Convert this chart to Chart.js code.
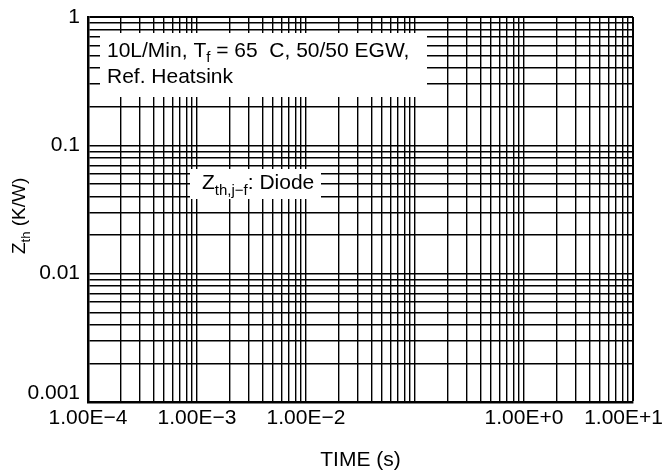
<!DOCTYPE html>
<html>
<head>
<meta charset="utf-8">
<script src="https://cdn.jsdelivr.net/npm/chart.js@4.4.0/dist/chart.umd.min.js"></script>
<style>
  html, body { margin: 0; padding: 0; background: #fff; }
  #wrap { width: 666px; height: 476px; }
</style>
</head>
<body>
<div id="wrap"><canvas id="myChart"></canvas></div>
<script>
// decades on each axis and the labels printed at them
const xDecades = [1e-4, 1e-3, 1e-2, 1e-1, 1, 10];
const xTickLabels = ['1.00E\u22124', '1.00E\u22123', '1.00E\u22122', '', '1.00E+0', '1.00E+1'];
const yDecades = [0.001, 0.01, 0.1, 1];
const yTickLabels = ['0.001', '0.01', '0.1', '1'];
const gridSteps = [1, 2, 3, 4, 5, 6, 7, 8, 9];
// the reference shows only the empty grid, no curve is plotted
const zthDiode = [];

const FONT = '"Liberation Sans", Arial, Helvetica, sans-serif';
const SIZE = 21;
const SUB = 15;

function logGrid(decades) {
    const ticks = [];
    decades.forEach((d, i) => {
        if (i === decades.length - 1) {
            ticks.push({ value: d, major: true });
            return;
        }
        gridSteps.forEach(s => ticks.push({ value: s * d, major: s === 1 }));
    });
    return ticks;
}

function drawRich(ctx, parts, x, y) {
    let cx = x;
    parts.forEach(p => {
        ctx.font = p[1] + 'px ' + FONT;
        ctx.fillText(p[0], cx, y + p[2]);
        cx += ctx.measureText(p[0]).width;
    });
}

const textPlugin = {
    id: 'textPlugin',
    afterDraw(chart) {
        const ctx = chart.ctx;
        const area = chart.chartArea;
        const xs = chart.scales.x;
        const ys = chart.scales.y;
        ctx.save();
        ctx.fillStyle = '#000';
        ctx.textBaseline = 'middle';

        // x tick labels
        ctx.font = SIZE + 'px ' + FONT;
        ctx.textAlign = 'center';
        xDecades.forEach((d, i) => {
            const label = xTickLabels[i];
            if (!label) return;
            const w = ctx.measureText(label).width;
            let x = xs.getPixelForValue(d);
            x = Math.min(x, chart.width - 3 - w / 2);
            ctx.fillText(label, x, area.bottom + 16);
        });

        // y tick labels
        ctx.textAlign = 'right';
        yDecades.forEach((d, i) => {
            let y = ys.getPixelForValue(d);
            y = Math.min(y, area.bottom - 9);
            ctx.fillText(yTickLabels[i], area.left - 8, y);
        });

        // axis titles
        ctx.textBaseline = 'alphabetic';
        ctx.textAlign = 'center';
        ctx.fillText('TIME (s)', (area.left + area.right) / 2, 466);

        ctx.save();
        ctx.translate(25, 254);
        ctx.rotate(-Math.PI / 2);
        ctx.textAlign = 'left';
        drawRich(ctx, [['Z', 19, 0], ['th', 13, 5], [' (K/W)', 19, 0]], 0, 0);
        ctx.restore();

        // annotation boxes
        ctx.textAlign = 'left';
        ctx.fillStyle = '#fff';
        ctx.fillRect(area.left + 12, area.top + 16, 327, 64);
        ctx.fillRect(area.left + 102, area.top + 152, 131, 30);
        ctx.fillStyle = '#000';
        drawRich(ctx, [['10L/Min, T', SIZE, 0], ['f', SUB, 5], [' = 65  C, 50/50 EGW,', SIZE, 0]],
            area.left + 19, area.top + 40);
        drawRich(ctx, [['Ref. Heatsink', SIZE, 0]], area.left + 19, area.top + 66);
        drawRich(ctx, [['Z', SIZE, 0], ['th,j\u2212f', SUB, 6], [': Diode', SIZE, 0]],
            area.left + 114, area.top + 172);
        ctx.restore();
    }
};

function gridWidth(max) {
    return ctx => (ctx.tick && ctx.tick.value >= max) ? 2 : 1.4;
}

new Chart(document.getElementById('myChart'), {
    type: 'scatter',
    data: {
        datasets: [{
            label: 'Zth,j-f: Diode',
            data: zthDiode,
            borderColor: '#000',
            showLine: true,
            pointRadius: 0,
        }]
    },
    options: {
        responsive: true,
        maintainAspectRatio: false,
        animation: false,
        layout: { padding: { left: 88, right: 33, top: 17, bottom: 74 } },
        plugins: {
            legend: { display: false },
            tooltip: { enabled: false },
        },
        scales: {
            x: {
                type: 'logarithmic',
                min: xDecades[0],
                max: xDecades[xDecades.length - 1],
                afterBuildTicks: scale => { scale.ticks = logGrid(xDecades); },
                ticks: { display: false },
                grid: { color: '#000', lineWidth: gridWidth(10), drawTicks: false },
                border: { display: true, color: '#000', width: 2.5 },
            },
            y: {
                type: 'logarithmic',
                min: yDecades[0],
                max: yDecades[yDecades.length - 1],
                afterBuildTicks: scale => { scale.ticks = logGrid(yDecades); },
                ticks: { display: false },
                grid: { color: '#000', lineWidth: gridWidth(1), drawTicks: false },
                border: { display: true, color: '#000', width: 2.5 },
            },
        },
    },
    plugins: [textPlugin],
});
</script>
</body>
</html>
